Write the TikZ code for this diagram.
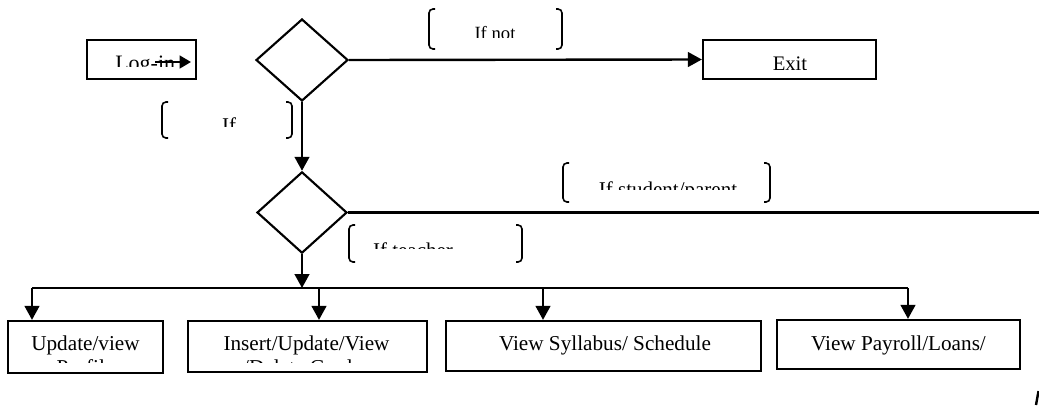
\documentclass[tikz,border=0pt]{standalone}
\usepackage{fontspec}
\setmainfont{Liberation Serif}
\usetikzlibrary{arrows.meta,shapes.geometric}

% one unit = 0.75pt, y grows downward
\tikzset{
  box/.style={draw, line width=1.7pt, rectangle, inner sep=0pt},
  decision/.style={draw, line width=1.6pt, diamond, inner sep=0pt},
  flow/.style={line width=1.8pt},
  arr/.style={flow, -{Triangle[length=10.5pt,width=11pt]}},
  brk/.style={line width=1.2pt, rounded corners=3pt},
  boxtxt/.style={inner sep=0pt, anchor=base, font=\fontsize{15.9pt}{18pt}\selectfont},
  lbltxt/.style={inner sep=0pt, anchor=base, font=\fontsize{15.75pt}{18pt}\selectfont},
}
\newcommand{\leftbrk}[3]{\draw[brk] (#1+6,#2) -- (#1,#2) -- (#1,#3) -- (#1+6,#3);}
\newcommand{\rightbrk}[3]{\draw[brk] (#1-6,#2) -- (#1,#2) -- (#1,#3) -- (#1-6,#3);}

\begin{document}
\begin{tikzpicture}[x=0.75pt,y=-0.75pt]
\useasboundingbox (0,0) rectangle (1039,405);

% boxes and decisions
\node[box, minimum width=81.75pt, minimum height=29.25pt] (login) at (141.5,59.5) {};
\node[box, minimum width=129.75pt, minimum height=29.25pt] (exit) at (789.5,59.5) {};
\node[decision, minimum width=69pt, minimum height=61.5pt] (d1) at (302,60) {};
\node[decision, minimum width=67.5pt, minimum height=61pt] (d2) at (302,212.5) {};
\node[box, minimum width=116.25pt, minimum height=39pt] (profile) at (85.5,347) {};
\node[box, minimum width=179.25pt, minimum height=38.25pt] (grades) at (307.5,346.5) {};
\node[box, minimum width=236.25pt, minimum height=37.5pt] (syllabus) at (603.5,346) {};
\node[box, minimum width=182.25pt, minimum height=36.75pt] (payroll) at (898.5,344.5) {};

% texts, cut off at the bottom
\begin{scope}
  \clip (90,40) rectangle (194,66);
  \node[inner sep=0pt, anchor=base west, font=\fontsize{16.5pt}{18pt}\selectfont] (logintxt) at (115,70) {Log-in};
\end{scope}
\coordinate (loginA) at (155,62);
\coordinate (loginB) at (191,62);
\draw[flow, -{Triangle[length=8.5pt,width=9.5pt]}] (loginA) -- (loginB);

\begin{scope}
  \clip (706,42) rectangle (874,69);
  \node[inner sep=0pt, anchor=base, font=\fontsize{15.5pt}{18pt}\selectfont] (exittxt) at (790,70) {Exit};
\end{scope}

\begin{scope}
  \clip (435,10) rectangle (556,37);
  \node[inner sep=0pt, anchor=base, font=\fontsize{14pt}{16pt}\selectfont] (ifnot) at (495,39) {If not};
\end{scope}
\begin{scope}
  \clip (168,100) rectangle (286,126);
  \node[lbltxt] (ifyes) at (229,132) {If};
\end{scope}
\begin{scope}
  \clip (569,160) rectangle (764,189);
  \node[lbltxt] (ifstudent) at (668,196) {If student/parent};
\end{scope}
\begin{scope}
  \clip (355,222) rectangle (516,248);
  \node[lbltxt] (ifteacher) at (413,257) {If teacher};
\end{scope}

\begin{scope}
  \clip (10,322) rectangle (161,362);
  \node[boxtxt] (t1a) at (85.5,350) {Update/view};
  \node[boxtxt] (t1b) at (85.5,374) {Profile};
\end{scope}
\begin{scope}
  \clip (190,322) rectangle (425,362);
  \node[boxtxt] (t2a) at (306.5,350) {Insert/Update/View};
  \node[boxtxt] (t2b) at (306.5,374) {/Delete Grades};
\end{scope}
\begin{scope}
  \clip (448,322) rectangle (759,362);
  \node[boxtxt] (t3a) at (605,350) {View Syllabus/ Schedule};
\end{scope}
\node[boxtxt] (t4a) at (898.5,350) {View Payroll/Loans/};

% brackets round the branch labels
\leftbrk{429}{9}{49}   \rightbrk{562}{9}{49}
\leftbrk{162}{102}{138} \rightbrk{292}{102}{138}
\leftbrk{563}{163}{202} \rightbrk{770}{163}{202}
\leftbrk{349}{225}{262} \rightbrk{522}{225}{262}

% connectors
\draw[arr] (d1.east) -- (exit.west);
\draw[arr] (d1.south) -- (d2.north);
\coordinate (sideout) at (1039,212.5);
\draw[flow] (d2.east) -- (sideout);
\coordinate (bus) at (302,288);
\draw[arr] (d2.south) -- (bus);
\coordinate (busL) at (32,288);
\coordinate (busR) at (908,288);
\draw[flow] (busL) -- (busR);
\draw[arr] (busL) -- (busL |- profile.north);
\draw[arr] (319,288) -- (319,0 |- grades.north);
\draw[arr] (543,288) -- (543,0 |- syllabus.north);
\draw[arr] (busR) -- (busR |- payroll.north);

% stub at the lower right edge
\coordinate (stubA) at (1036,405);
\coordinate (stubB) at (1038.5,391);
\draw[flow] (stubA) -- (stubB);
\end{tikzpicture}
\end{document}
